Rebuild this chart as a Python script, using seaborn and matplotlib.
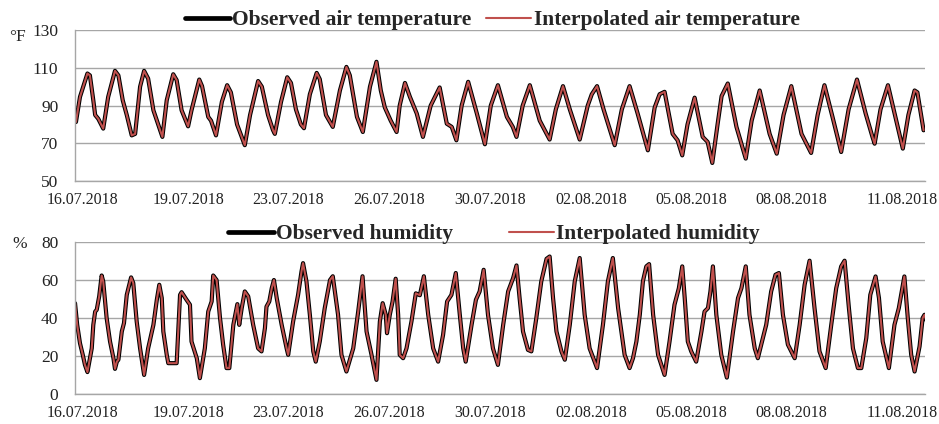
import matplotlib
matplotlib.use("Agg")
import matplotlib.pyplot as plt
import seaborn as sns

# time axis in days since the first sample
temp_time = [0.03, 0.16, 0.40, 0.48, 0.59, 0.65, 0.75, 0.91, 1.07, 1.29,
             1.40, 1.54, 1.67, 1.83, 1.94, 2.10, 2.23, 2.36, 2.53, 2.82,
             2.96, 3.17, 3.28, 3.44, 3.65, 3.76, 4.01, 4.10, 4.30, 4.39,
             4.55, 4.74, 4.91, 5.03, 5.23, 5.48, 5.65, 5.91, 6.03, 6.23,
             6.39, 6.45, 6.65, 6.85, 6.97, 7.13, 7.29, 7.39, 7.58, 7.80,
             7.90, 8.10, 8.32, 8.55, 8.76, 8.87, 9.10, 9.29, 9.52, 9.73,
             9.87, 10.00, 10.19, 10.38, 10.48, 10.65, 10.81, 11.03, 11.23, 11.48,
             11.77, 12.00, 12.16, 12.31, 12.48, 12.69, 12.97, 13.23, 13.42, 13.65,
             13.94, 14.13, 14.25, 14.45, 14.68, 15.00, 15.32, 15.52, 15.75, 15.97,
             16.29, 16.55, 16.68, 16.85, 17.06, 17.42, 17.65, 17.90, 18.16, 18.49,
             18.71, 18.87, 19.03, 19.29, 19.45, 19.60, 19.77, 20.00, 20.26, 20.42,
             20.57, 20.74, 20.87, 21.07, 21.35, 21.65, 21.84, 22.10, 22.42, 22.65,
             22.87, 23.12, 23.45, 23.76, 23.97, 24.19, 24.45, 24.73, 24.97, 25.24,
             25.52, 25.74, 25.81, 26.00, 26.24, 26.48, 26.72, 26.90, 27.10, 27.19,
             27.39]
temp_obs = [81.3, 94.6, 107, 106, 92.8, 85, 83, 77.8, 94.6, 108.4,
            106, 92.8, 85, 74.2, 75, 100, 108.4, 104.3, 87.5, 73.4,
            92.8, 106.6, 103.5, 87.5, 79, 87.5, 103.8, 100.3, 84, 82,
            74.2, 92, 100.8, 97, 80, 69, 85, 103, 100, 85,
            77, 75, 92, 105, 102, 88, 80, 78, 96, 107.3,
            104, 85, 78.7, 98, 110.5, 106, 84, 76, 100, 113.2,
            98, 89, 82, 76, 90, 102, 94.6, 85.8, 73.4, 90,
            99.6, 80.4, 78.7, 71.6, 90, 102.6, 85.8, 69.5, 90, 100.8,
            84, 78.7, 73.4, 90, 100.8, 82, 72, 88, 100.3, 88,
            72, 90, 96, 100.3, 88, 69, 88, 100.3, 85.8, 66.3,
            89, 96, 97.3, 75, 71.6, 63.6, 80, 94.2, 73.4, 70.7,
            59.6, 80, 95, 101.7, 78.7, 61.9, 82, 98, 75, 64.5,
            85, 100.3, 75, 64.9, 85, 100.8, 84, 65.4, 88, 103.8,
            85.8, 73.4, 69.8, 88, 100.8, 84, 67.2, 85, 98, 97,
            76.9]
# interpolated curve lies on top of the observed one at this resolution
temp_interp = list(temp_obs)

hum_time = [0.00, 0.07, 0.16, 0.25, 0.32, 0.40, 0.54, 0.59, 0.65, 0.70,
            0.78, 0.86, 0.91, 1.02, 1.13, 1.24, 1.29, 1.35, 1.40, 1.51,
            1.58, 1.67, 1.81, 1.88, 1.99, 2.10, 2.23, 2.36, 2.53, 2.64,
            2.72, 2.80, 2.85, 2.96, 3.01, 3.28, 3.39, 3.44, 3.60, 3.71,
            3.76, 3.93, 4.03, 4.19, 4.30, 4.41, 4.46, 4.57, 4.68, 4.78,
            4.89, 4.98, 5.11, 5.24, 5.30, 5.38, 5.48, 5.59, 5.75, 5.91,
            6.02, 6.13, 6.18, 6.27, 6.35, 6.42, 6.51, 6.67, 6.83, 6.88,
            7.04, 7.20, 7.31, 7.36, 7.47, 7.58, 7.69, 7.77, 7.90, 8.06,
            8.23, 8.32, 8.49, 8.60, 8.76, 8.98, 9.14, 9.28, 9.41, 9.57,
            9.73, 9.84, 9.93, 10.03, 10.07, 10.16, 10.25, 10.35, 10.43, 10.48,
            10.59, 10.70, 10.86, 11.00, 11.13, 11.26, 11.40, 11.56, 11.72, 11.88,
            12.01, 12.15, 12.29, 12.42, 12.53, 12.61, 12.80, 12.94, 13.06, 13.19,
            13.33, 13.49, 13.65, 13.82, 13.98, 14.14, 14.25, 14.35, 14.46, 14.62,
            14.73, 14.89, 15.05, 15.22, 15.32, 15.43, 15.54, 15.70, 15.81, 15.97,
            16.13, 16.29, 16.45, 16.61, 16.85, 17.04, 17.20, 17.36, 17.53, 17.74,
            17.90, 18.01, 18.12, 18.23, 18.33, 18.44, 18.53, 18.66, 18.82, 19.03,
            19.19, 19.35, 19.49, 19.60, 19.68, 19.78, 19.89, 20.05, 20.22, 20.32,
            20.43, 20.51, 20.59, 20.70, 20.86, 21.04, 21.24, 21.40, 21.51, 21.65,
            21.77, 21.94, 22.04, 22.31, 22.47, 22.61, 22.72, 22.85, 23.01, 23.23,
            23.39, 23.55, 23.71, 23.87, 24.03, 24.23, 24.41, 24.57, 24.73, 24.84,
            24.98, 25.11, 25.27, 25.38, 25.54, 25.67, 25.84, 25.95, 26.07, 26.27,
            26.45, 26.59, 26.77, 26.88, 26.99, 27.10, 27.26, 27.36, 27.42, 27.47]
hum_obs = [47.8, 36.4, 26.7, 20.6, 15.3, 11.5, 24, 36.4, 43.4, 44.3,
           51.4, 62.4, 59.3, 40, 27.6, 18.8, 13.2, 17, 18, 32.9,
           37.3, 52.2, 61.4, 58.4, 38.2, 24, 10, 24, 36.4, 49.6,
           57.5, 50.5, 32.9, 20.6, 16.2, 16.2, 52.2, 53.6, 49.6, 47,
           27.6, 18.8, 8.3, 24, 43.4, 48.7, 62.4, 60, 40, 26,
           13.6, 13.6, 36.4, 47.3, 36.4, 45.2, 54, 51.4, 36.4, 24,
           22.4, 34.7, 46, 48.7, 55.7, 60, 50.5, 36.4, 24, 20.6,
           38.2, 52.2, 64.5, 68.9, 59.3, 41.7, 22.4, 17, 27.6, 45.2,
           60, 62, 41.7, 20.6, 11.8, 24, 43.4, 62, 32.9, 20.6,
           7.4, 38.2, 47.8, 41.7, 32, 41.7, 48.7, 60.7, 41.7, 20.6,
           18.8, 24, 38.2, 53, 52, 62, 41.7, 24, 17, 31.1,
           48.7, 52.2, 63.7, 41.7, 24, 17, 36.4, 49.6, 54, 65.4,
           41.7, 24, 15.3, 36.4, 54, 61, 67.7, 50.5, 32.9, 23.2,
           22.4, 40, 59.3, 71.2, 72.4, 50.5, 32.9, 22.4, 18, 36.4,
           59.3, 71.6, 41.7, 24, 13.6, 36.4, 59.3, 71.6, 45.2, 20.6,
           13.6, 18.8, 27.6, 41.7, 59.3, 67.2, 68.4, 41.7, 20.6, 10,
           27.6, 47, 55.7, 67.2, 50.5, 27.6, 22.4, 17, 32.9, 43.4,
           45.2, 54, 67.2, 41.7, 20.6, 8.6, 32.9, 50.5, 55.7, 67.2,
           41.7, 24, 18.8, 36.4, 54, 62.8, 63.7, 41.7, 26, 18.8,
           36.4, 57.5, 70.2, 45.2, 22.4, 13.6, 36.4, 55.7, 67.2, 70.2,
           45.2, 24, 13.6, 13.6, 29.4, 52.2, 61.9, 50.5, 27.6, 13.6,
           36.4, 45.2, 61.9, 40, 20.6, 11.8, 25, 40, 41.7, 39]
hum_interp = list(hum_obs)

date_labels = ["16.07.2018", "19.07.2018", "23.07.2018", "26.07.2018", "30.07.2018",
               "02.08.2018", "05.08.2018", "08.08.2018", "11.08.2018"]
date_ticks = [0.23, 3.65, 6.87, 10.13, 13.39, 16.65, 19.90, 23.13, 26.71]

sns.set_theme(style="white")
plt.rcParams['font.family'] = ['Liberation Serif', 'DejaVu Serif']

fig = plt.figure(figsize=(9.39, 4.24), dpi=100)
ax1 = fig.add_axes([0.0799, 0.573, 0.905, 0.356])
ax2 = fig.add_axes([0.0799, 0.071, 0.905, 0.358])

grey = '#a6a6a6'
red = '#c0504d'

panels = [
    (ax1, temp_time, temp_obs, temp_interp, (50, 130), [50, 70, 90, 110, 130],
     'Observed air temperature', 'Interpolated air temperature', 492, 20, 0.7),
    (ax2, hum_time, hum_obs, hum_interp, (0, 80), [0, 20, 40, 60, 80],
     'Observed humidity', 'Interpolated humidity', 494, 234, 2.6),
]

for ax, t, obs, itp, ylim, yt, lab1, lab2, lx, ly, colsp in panels:
    sns.lineplot(x=t, y=obs, ax=ax, color='black', lw=3.0, label=lab1,
                 estimator=None, sort=False)
    sns.lineplot(x=t, y=itp, ax=ax, color=red, lw=1.5, label=lab2,
                 estimator=None, sort=False)
    ax.set_xlim(0, 27.43)
    ax.set_ylim(*ylim)
    ax.set_yticks(yt)
    ax.set_xticks(date_ticks)
    ax.set_xticklabels(date_labels)
    ax.grid(axis='y', color=grey, lw=1)
    ax.set_axisbelow(True)
    for s in ['top', 'right']:
        ax.spines[s].set_visible(False)
    for s in ['left', 'bottom']:
        ax.spines[s].set_color(grey)
        ax.spines[s].set_linewidth(1)
    ax.tick_params(axis='y', length=5, color=grey, width=1, pad=7, labelsize=12.5, labelcolor='#222222')
    ax.tick_params(axis='x', length=0, pad=8, labelsize=11.5, labelcolor='#222222')
    ax.set_xlabel('')
    ax.set_ylabel('')
    leg = ax.legend(ncol=2, loc='center', bbox_to_anchor=(lx / 939, 1 - ly / 424),
                    bbox_transform=fig.transFigure, frameon=False,
                    prop={'weight': 'bold', 'size': 15.5}, handlelength=2.1,
                    handletextpad=0.1, columnspacing=colsp)
    leg.get_lines()[0].set_linewidth(3.4)
    leg.get_lines()[1].set_linewidth(1.5)

fig.text(17 / 939, 1 - 37 / 424, '°F', ha='center', va='center', fontsize=12.5)
fig.text(20 / 939, 1 - 244 / 424, '%', ha='center', va='center', fontsize=12.5)

fig.savefig('out.png', dpi=100)
